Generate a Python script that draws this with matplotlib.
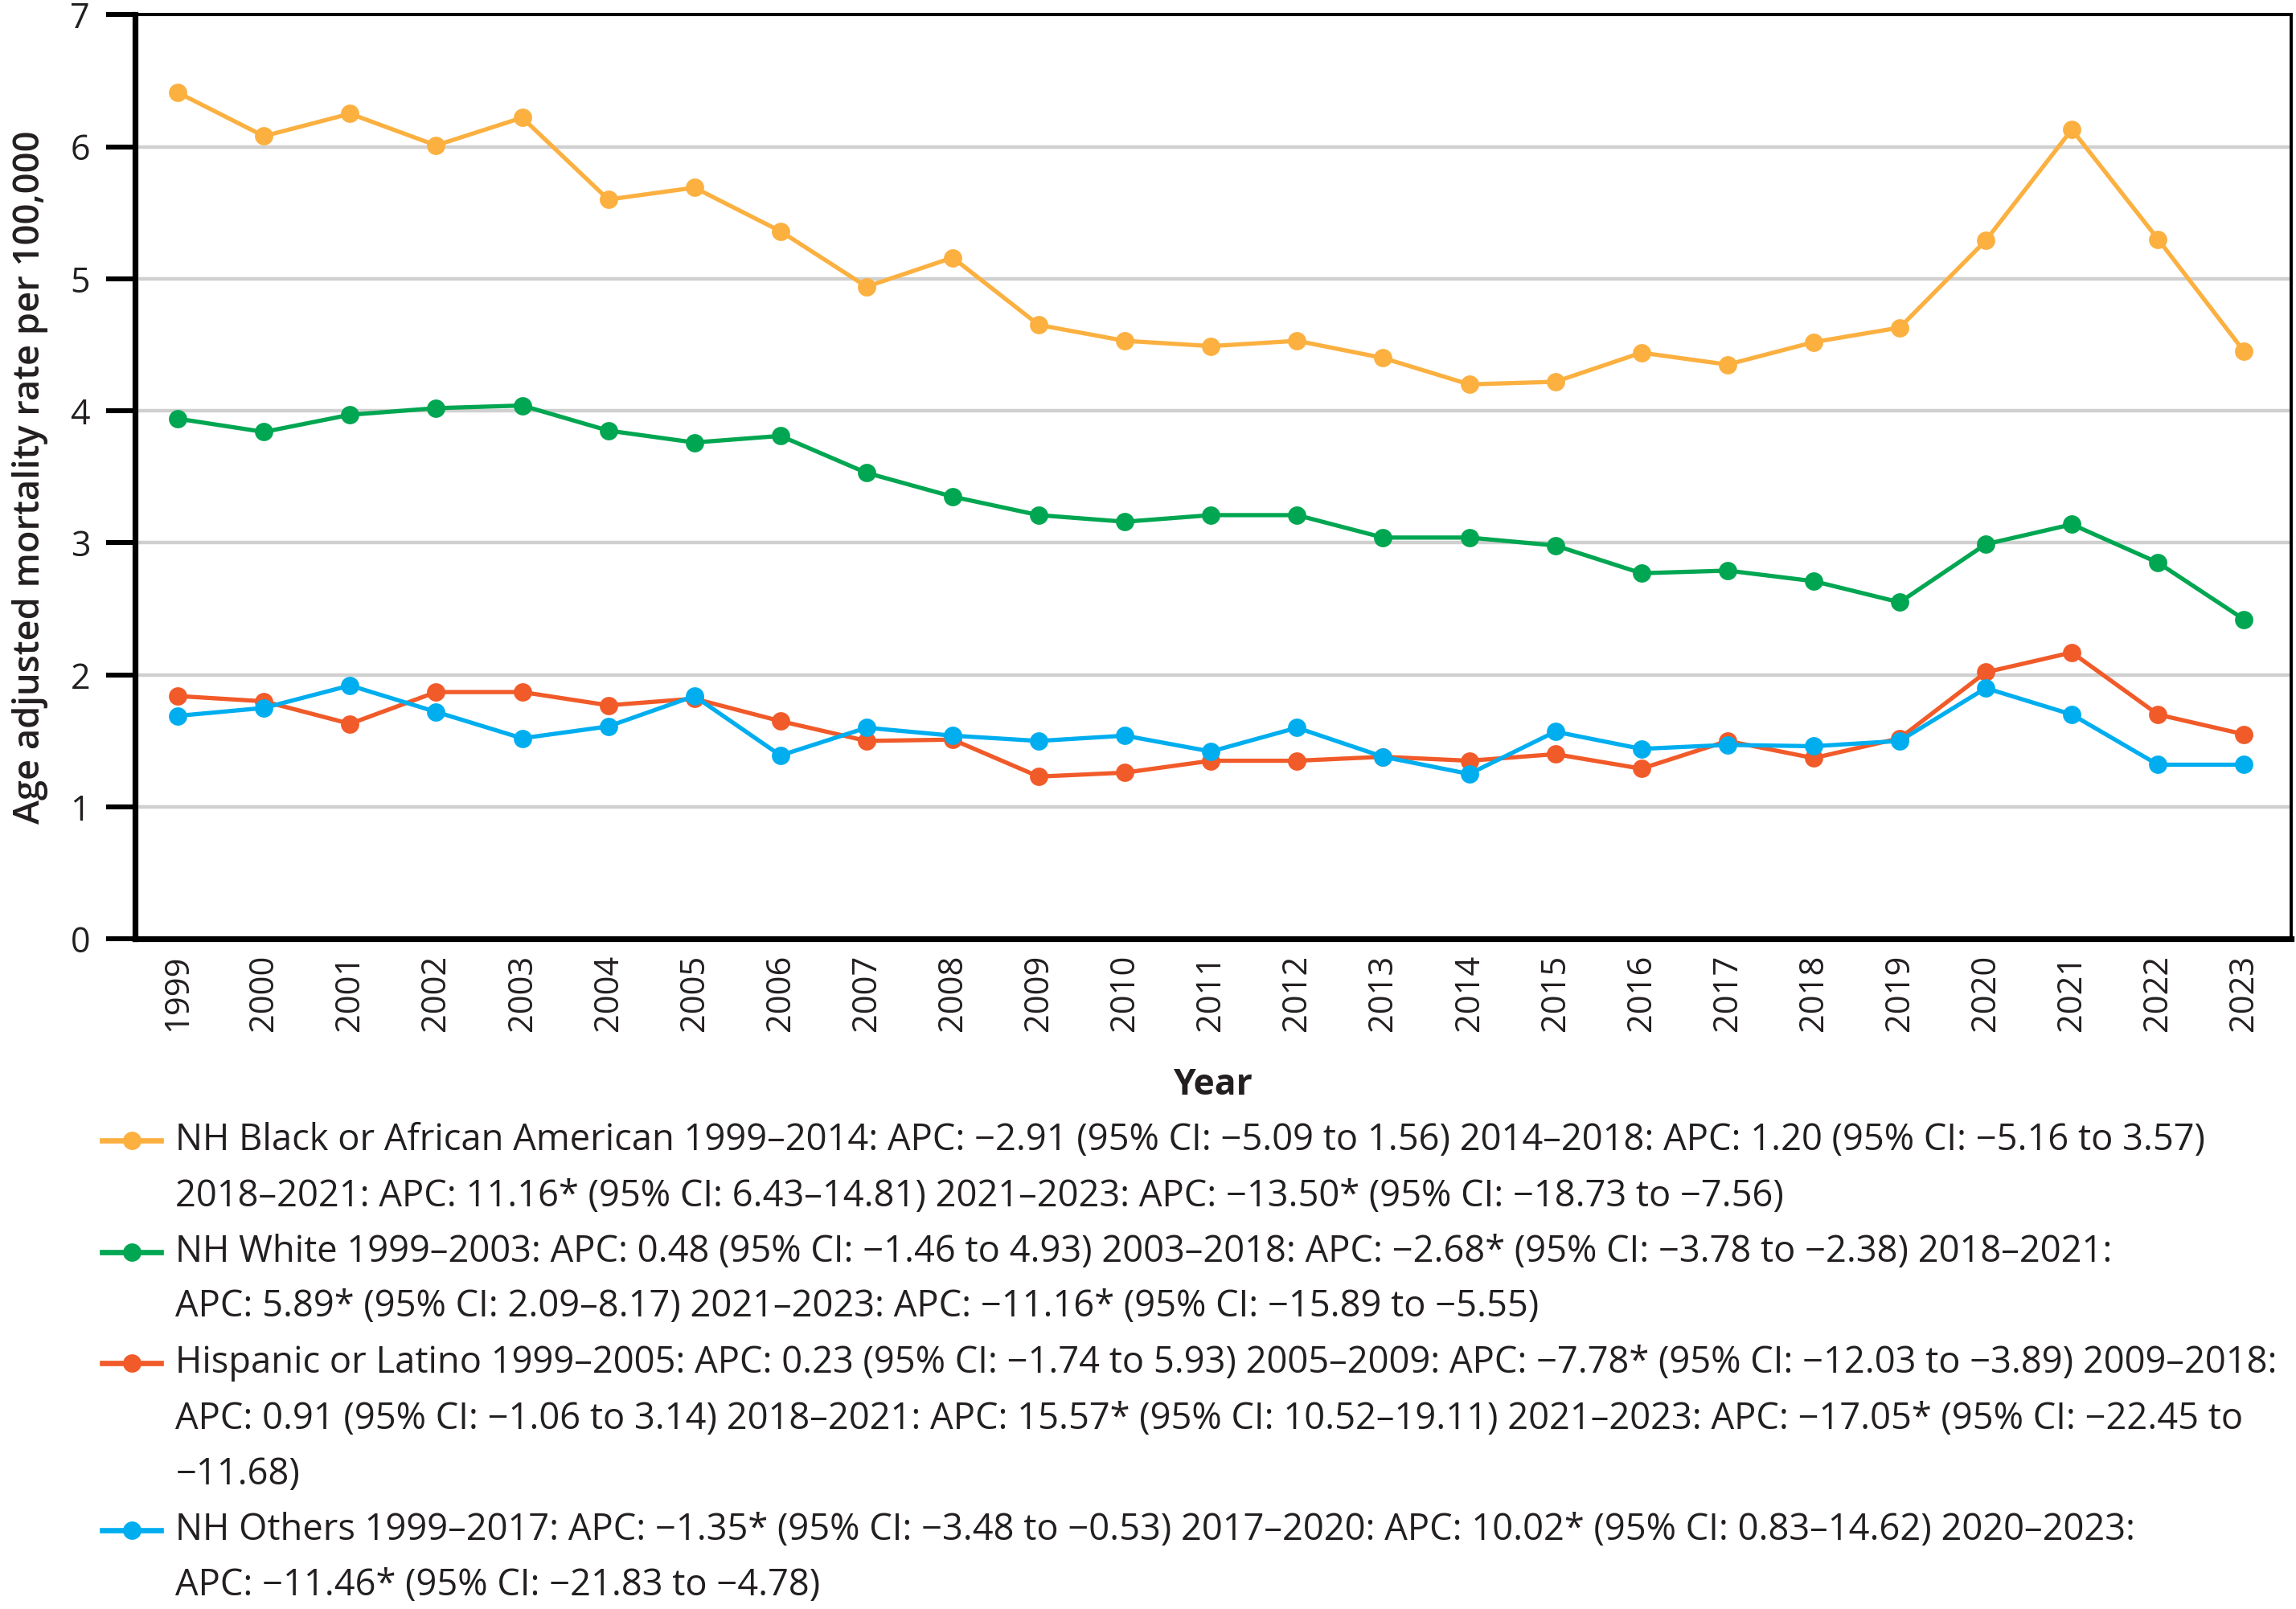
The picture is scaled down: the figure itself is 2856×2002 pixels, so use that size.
import matplotlib.pyplot as plt
from matplotlib.lines import Line2D

plt.rcParams['font.family'] = ['Open Sans', 'DejaVu Sans']

# data
years = list(range(1999, 2024))
black = [6.41, 6.08, 6.25, 6.01, 6.22, 5.60, 5.69, 5.36, 4.94, 5.16, 4.65, 4.53, 4.49, 4.53,
         4.40, 4.20, 4.22, 4.44, 4.35, 4.52, 4.63, 5.29, 6.13, 5.30, 4.45]
white = [3.94, 3.84, 3.97, 4.02, 4.04, 3.85, 3.76, 3.81, 3.53, 3.35, 3.21, 3.16, 3.21, 3.21,
         3.04, 3.04, 2.98, 2.77, 2.79, 2.71, 2.55, 2.99, 3.14, 2.85, 2.42]
hispanic = [1.84, 1.80, 1.63, 1.87, 1.87, 1.77, 1.82, 1.65, 1.50, 1.51, 1.23, 1.26, 1.35, 1.35,
            1.38, 1.35, 1.40, 1.29, 1.50, 1.37, 1.52, 2.02, 2.17, 1.70, 1.55]
others = [1.69, 1.75, 1.92, 1.72, 1.52, 1.61, 1.84, 1.39, 1.60, 1.54, 1.50, 1.54, 1.42, 1.60,
          1.38, 1.25, 1.57, 1.44, 1.47, 1.46, 1.50, 1.90, 1.70, 1.32, 1.32]

colors = ['#FBB040', '#00A651', '#F15A29', '#00AEEF']
series = [black, white, hispanic, others]

legend_lines = [
    ["NH Black or African American 1999–2014: APC: −2.91 (95% CI: −5.09 to 1.56) 2014–2018: APC: 1.20 (95% CI: −5.16 to 3.57)",
     "2018–2021: APC: 11.16* (95% CI: 6.43–14.81) 2021–2023: APC: −13.50* (95% CI: −18.73 to −7.56)"],
    ["NH White 1999–2003: APC: 0.48 (95% CI: −1.46 to 4.93) 2003–2018: APC: −2.68* (95% CI: −3.78 to −2.38) 2018–2021:",
     "APC: 5.89* (95% CI: 2.09–8.17) 2021–2023: APC: −11.16* (95% CI: −15.89 to −5.55)"],
    ["Hispanic or Latino 1999–2005: APC: 0.23 (95% CI: −1.74 to 5.93) 2005–2009: APC: −7.78* (95% CI: −12.03 to −3.89) 2009–2018:",
     "APC: 0.91 (95% CI: −1.06 to 3.14) 2018–2021: APC: 15.57* (95% CI: 10.52–19.11) 2021–2023: APC: −17.05* (95% CI: −22.45 to",
     "−11.68)"],
    ["NH Others 1999–2017: APC: −1.35* (95% CI: −3.48 to −0.53) 2017–2020: APC: 10.02* (95% CI: 0.83–14.62) 2020–2023:",
     "APC: −11.46* (95% CI: −21.83 to −4.78)"],
]

fig = plt.figure(figsize=(14.28, 10.01), dpi=200)
ax = fig.add_axes([0.0587, 0.4164, 0.9393, 0.5745])

x = list(range(len(years)))
for vals, c in zip(series, colors):
    ax.plot(x, vals, color=c, lw=1.9, marker='o', ms=7.2, zorder=3)

ax.set_xlim(-0.5, len(years) - 0.45)
ax.set_ylim(0, 7)
ax.set_yticks(range(8))
ax.set_xticks(x)
ax.set_xticklabels([str(y) for y in years], rotation=90)
ax.grid(axis='y', color='#d0d0d0', lw=1.6, zorder=0)
ax.set_axisbelow(True)

for s in ['left', 'bottom']:
    ax.spines[s].set_linewidth(2.6)
for s in ['top', 'right']:
    ax.spines[s].set_linewidth(1.4)
ax.tick_params(axis='y', length=13, width=2.2, pad=7, labelsize=15.5, labelcolor='#231f20')
ax.tick_params(axis='x', length=0, pad=7, labelsize=15, labelcolor='#231f20')

ax.set_ylabel('Age adjusted mortality rate per 100,000', fontsize=16.3, fontweight='semibold',
              color='#231f20', labelpad=10)
ax.set_xlabel('Year', fontsize=16, fontweight='bold', color='#231f20', labelpad=16)

# custom wrapped legend below the chart
line_y = [[0.291, 0.2564], [0.2218, 0.188], [0.1527, 0.118, 0.0836], [0.049, 0.0145]]
for c, texts, ys in zip(colors, legend_lines, line_y):
    fig.lines.append(Line2D([0.0446, 0.0702], [ys[0], ys[0]], color=c, lw=2.4,
                            transform=fig.transFigure))
    fig.lines.append(Line2D([0.0574], [ys[0]], color=c, marker='o', ms=7.2,
                            transform=fig.transFigure))
    for t, yy in zip(texts, ys):
        fig.text(0.0765, yy, t, fontsize=16.3, color='#231f20', va='center', ha='left')

fig.savefig('out.png', dpi=200)
